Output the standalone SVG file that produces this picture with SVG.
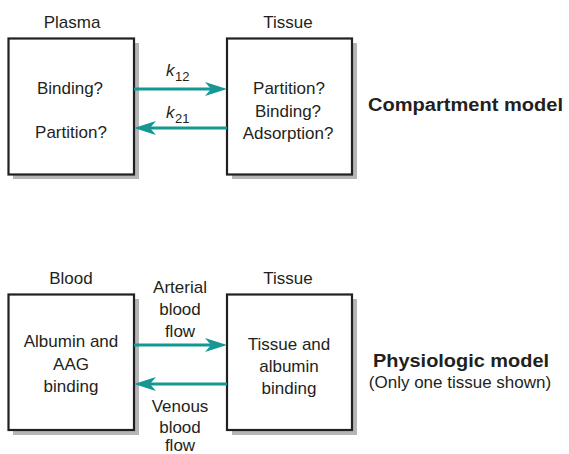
<svg xmlns="http://www.w3.org/2000/svg" width="569" height="454" viewBox="0 0 569 454">
<style>
text{font-family:"Liberation Sans",Arial,sans-serif;font-size:17px;fill:#231f20;text-anchor:middle}
.b{font-weight:bold;text-anchor:start;font-size:18px}
.s{text-anchor:start}
.sub{font-size:13px;text-anchor:start}
.box{fill:#fff;stroke:#231f20;stroke-width:2.2}
.sh{fill:#b5b5b7}
.ar{stroke:#159894;stroke-width:3;fill:none}
.hd{fill:#159894}
</style>
<rect width="569" height="454" fill="#fff"/>
<g id="plasma">
<rect class="sh" x="13" y="43" width="126" height="136"/>
<rect class="box" x="8.5" y="38.5" width="125.5" height="136"/>
<text x="72" y="28">Plasma</text>
<text x="70" y="94">Binding?</text>
<text x="71" y="138">Partition?</text>
</g>
<g id="tissue1">
<rect class="sh" x="232" y="43" width="125" height="136"/>
<rect class="box" x="227" y="38.5" width="125" height="136"/>
<text x="288" y="28">Tissue</text>
<text x="289" y="94">Partition?</text>
<text x="288" y="117">Binding?</text>
<text x="288" y="139">Adsorption?</text>
</g>
<g id="label1">
<text class="b" x="368" y="111" textLength="195" lengthAdjust="spacingAndGlyphs">Compartment model</text>
</g>
<g id="blood">
<rect class="sh" x="13" y="299" width="126" height="136"/>
<rect class="box" x="8.5" y="294.5" width="125.5" height="135.5"/>
<text x="71" y="284">Blood</text>
<text x="71" y="347">Albumin and</text>
<text x="71" y="370">AAG</text>
<text x="71" y="392">binding</text>
</g>
<g id="tissue2">
<rect class="sh" x="232" y="299" width="125" height="136"/>
<rect class="box" x="227" y="294.5" width="125" height="135.5"/>
<text x="288" y="284">Tissue</text>
<text x="289" y="350">Tissue and</text>
<text x="289" y="372">albumin</text>
<text x="289" y="394">binding</text>
</g>
<g id="label2">
<text class="b" x="373" y="367" textLength="176" lengthAdjust="spacingAndGlyphs">Physiologic model</text>
<text x="460" y="388">(Only one tissue shown)</text>
</g>
<g id="connectors">
<line class="ar" x1="134" y1="89" x2="212" y2="89"/>
<path class="hd" d="M227,89 L205,82 L211,89 L205,96 Z"/>
<line class="ar" x1="227" y1="128" x2="149" y2="128"/>
<path class="hd" d="M134,128 L156,121 L150,128 L156,135 Z"/>
<line class="ar" x1="134" y1="345" x2="212" y2="345"/>
<path class="hd" d="M227,345 L205,338 L211,345 L205,352 Z"/>
<line class="ar" x1="227" y1="384" x2="149" y2="384"/>
<path class="hd" d="M134,384 L156,377 L150,384 L156,391 Z"/>
<text class="s" x="166" y="76" font-style="italic">k</text><text class="sub" x="175" y="81">12</text>
<text class="s" x="166" y="118" font-style="italic">k</text><text class="sub" x="175" y="123">21</text>
<text x="180" y="293">Arterial</text>
<text x="180" y="315">blood</text>
<text x="180" y="337">flow</text>
<text x="180" y="412">Venous</text>
<text x="180" y="433">blood</text>
<text x="180" y="451">flow</text>
</g>
</svg>
